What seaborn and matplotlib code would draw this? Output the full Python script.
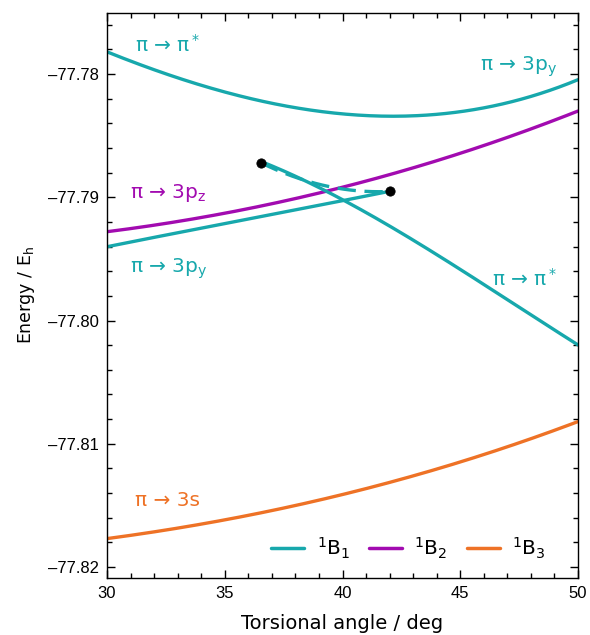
import numpy as np
import pandas as pd
import matplotlib
matplotlib.use("Agg")
import matplotlib.pyplot as plt
import seaborn as sns
from matplotlib.lines import Line2D
from matplotlib.ticker import MultipleLocator

# ---- data ----
pipi_up_x = [30, 32.5, 35, 37.5, 40, 42.5, 45, 47.5, 50]
pipi_up_y = [-77.7782, -77.7800, -77.7814, -77.7825, -77.7833, -77.7835, -77.7830, -77.7820, -77.7805]

b2_x = [30, 32.5, 35, 37.5, 40, 42.5, 45, 47.5, 50]
b2_y = [-77.7928, -77.7921, -77.7913, -77.7903, -77.7892, -77.7879, -77.7864, -77.7848, -77.7830]

py_low_x = [30, 32.5, 35, 37.5, 40, 42.0]
py_low_y = [-77.7940, -77.7931, -77.7921, -77.7912, -77.7903, -77.7895]

pipi_diag_x = [36.54, 37.5, 40, 42.5, 45, 47.5, 50]
pipi_diag_y = [-77.7872, -77.7877, -77.7902, -77.7930, -77.7958, -77.7989, -77.8020]

dash_x = [36.54, 37.5, 38.5, 39.6, 40.5, 41.5, 42.0]
dash_y = [-77.7872, -77.7880, -77.7887, -77.7892, -77.7894, -77.7896, -77.7895]

b3_x = [30, 35, 40, 45, 50]
b3_y = [-77.8177, -77.8162, -77.8141, -77.8115, -77.8082]

dot_x = [36.54, 42.0]
dot_y = [-77.7872, -77.7895]

legend_labels = [r"$^1\mathrm{B}_1$", r"$^1\mathrm{B}_2$", r"$^1\mathrm{B}_3$"]

TEAL = "#17a8ac"
MAG = "#a20bb0"
ORA = "#ee7226"

sns.set_style("ticks")
plt.rcParams["font.family"] = ["DejaVu Sans"]
plt.rcParams["text.color"] = "black"
plt.rcParams["axes.labelcolor"] = "black"
plt.rcParams["xtick.color"] = "black"
plt.rcParams["ytick.color"] = "black"
plt.rcParams["axes.edgecolor"] = "black"

fig = plt.figure(figsize=(5.9, 6.35), dpi=100)
ax = fig.add_axes([0.1814, 0.0898, 0.7983, 0.8897])

def smooth(xs, ys, n=200):
    c = np.polyfit(xs, ys, min(3, len(xs) - 1))
    xx = np.linspace(xs[0], xs[-1], n)
    return xx, np.polyval(c, xx)

lw = 2.4
for xs, ys, col in [
    (pipi_up_x, pipi_up_y, TEAL),
    (b2_x, b2_y, MAG),
    (py_low_x, py_low_y, TEAL),
    (pipi_diag_x, pipi_diag_y, TEAL),
    (b3_x, b3_y, ORA),
]:
    xx, yy = smooth(xs, ys)
    sns.lineplot(x=xx, y=yy, ax=ax, color=col, lw=lw, sort=False)

xx, yy = smooth(dash_x, dash_y)
ax.plot(xx, yy, color=TEAL, lw=lw, linestyle=(0, (5.5, 2.6)))
sns.scatterplot(x=dot_x, y=dot_y, ax=ax, color="black", s=45, edgecolor="black", zorder=5)

ax.set_xlim(30, 50)
ax.set_ylim(-77.8209, -77.77504)
ax.xaxis.set_major_locator(MultipleLocator(5))
ax.xaxis.set_minor_locator(MultipleLocator(1))
ax.yaxis.set_major_locator(MultipleLocator(0.01))
ax.yaxis.set_minor_locator(MultipleLocator(0.002))
ax.tick_params(which="both", direction="in", top=True, right=True, width=1.0, color="black",
               labelcolor="black")
ax.tick_params(which="major", length=6, labelsize=12, pad=6)
ax.tick_params(which="minor", length=3.5)
ax.yaxis.set_major_formatter(matplotlib.ticker.FuncFormatter(lambda v, p: f"\u2013{abs(v):.2f}"))
for lab in ax.get_xticklabels() + ax.get_yticklabels():
    lab.set_fontfamily("Liberation Sans")
for s in ax.spines.values():
    s.set_linewidth(1.0)
    s.set_color("black")

ax.set_xlabel("Torsional angle / deg", fontsize=14, labelpad=9)
ax.set_ylabel(r"Energy / E$_\mathrm{h}$", fontsize=12.5, labelpad=8)

fs = 14.5
ax.text(31.2, -77.77764, r"π → π$^*$", color=TEAL, fontsize=fs, va="center")
ax.text(45.84, -77.7794, r"π → 3p$_\mathrm{y}$", color=TEAL, fontsize=fs, va="center")
ax.text(30.98, -77.78967, r"π → 3p$_\mathrm{z}$", color=MAG, fontsize=fs, va="center")
ax.text(30.98, -77.79577, r"π → 3p$_\mathrm{y}$", color=TEAL, fontsize=fs, va="center")
ax.text(46.35, -77.79659, r"π → π$^*$", color=TEAL, fontsize=fs, va="center")
ax.text(31.2, -77.81463, r"π → 3s", color=ORA, fontsize=fs, va="center")

handles = [Line2D([], [], color=c, lw=2.5) for c in (TEAL, MAG, ORA)]
ax.legend(handles, legend_labels, ncol=3, frameon=False, loc="center right",
          bbox_to_anchor=(0.948, 0.053), fontsize=14.5, handlelength=1.65,
          columnspacing=0.95, handletextpad=0.6, borderaxespad=0.0)

fig.savefig("out.png", dpi=100)
